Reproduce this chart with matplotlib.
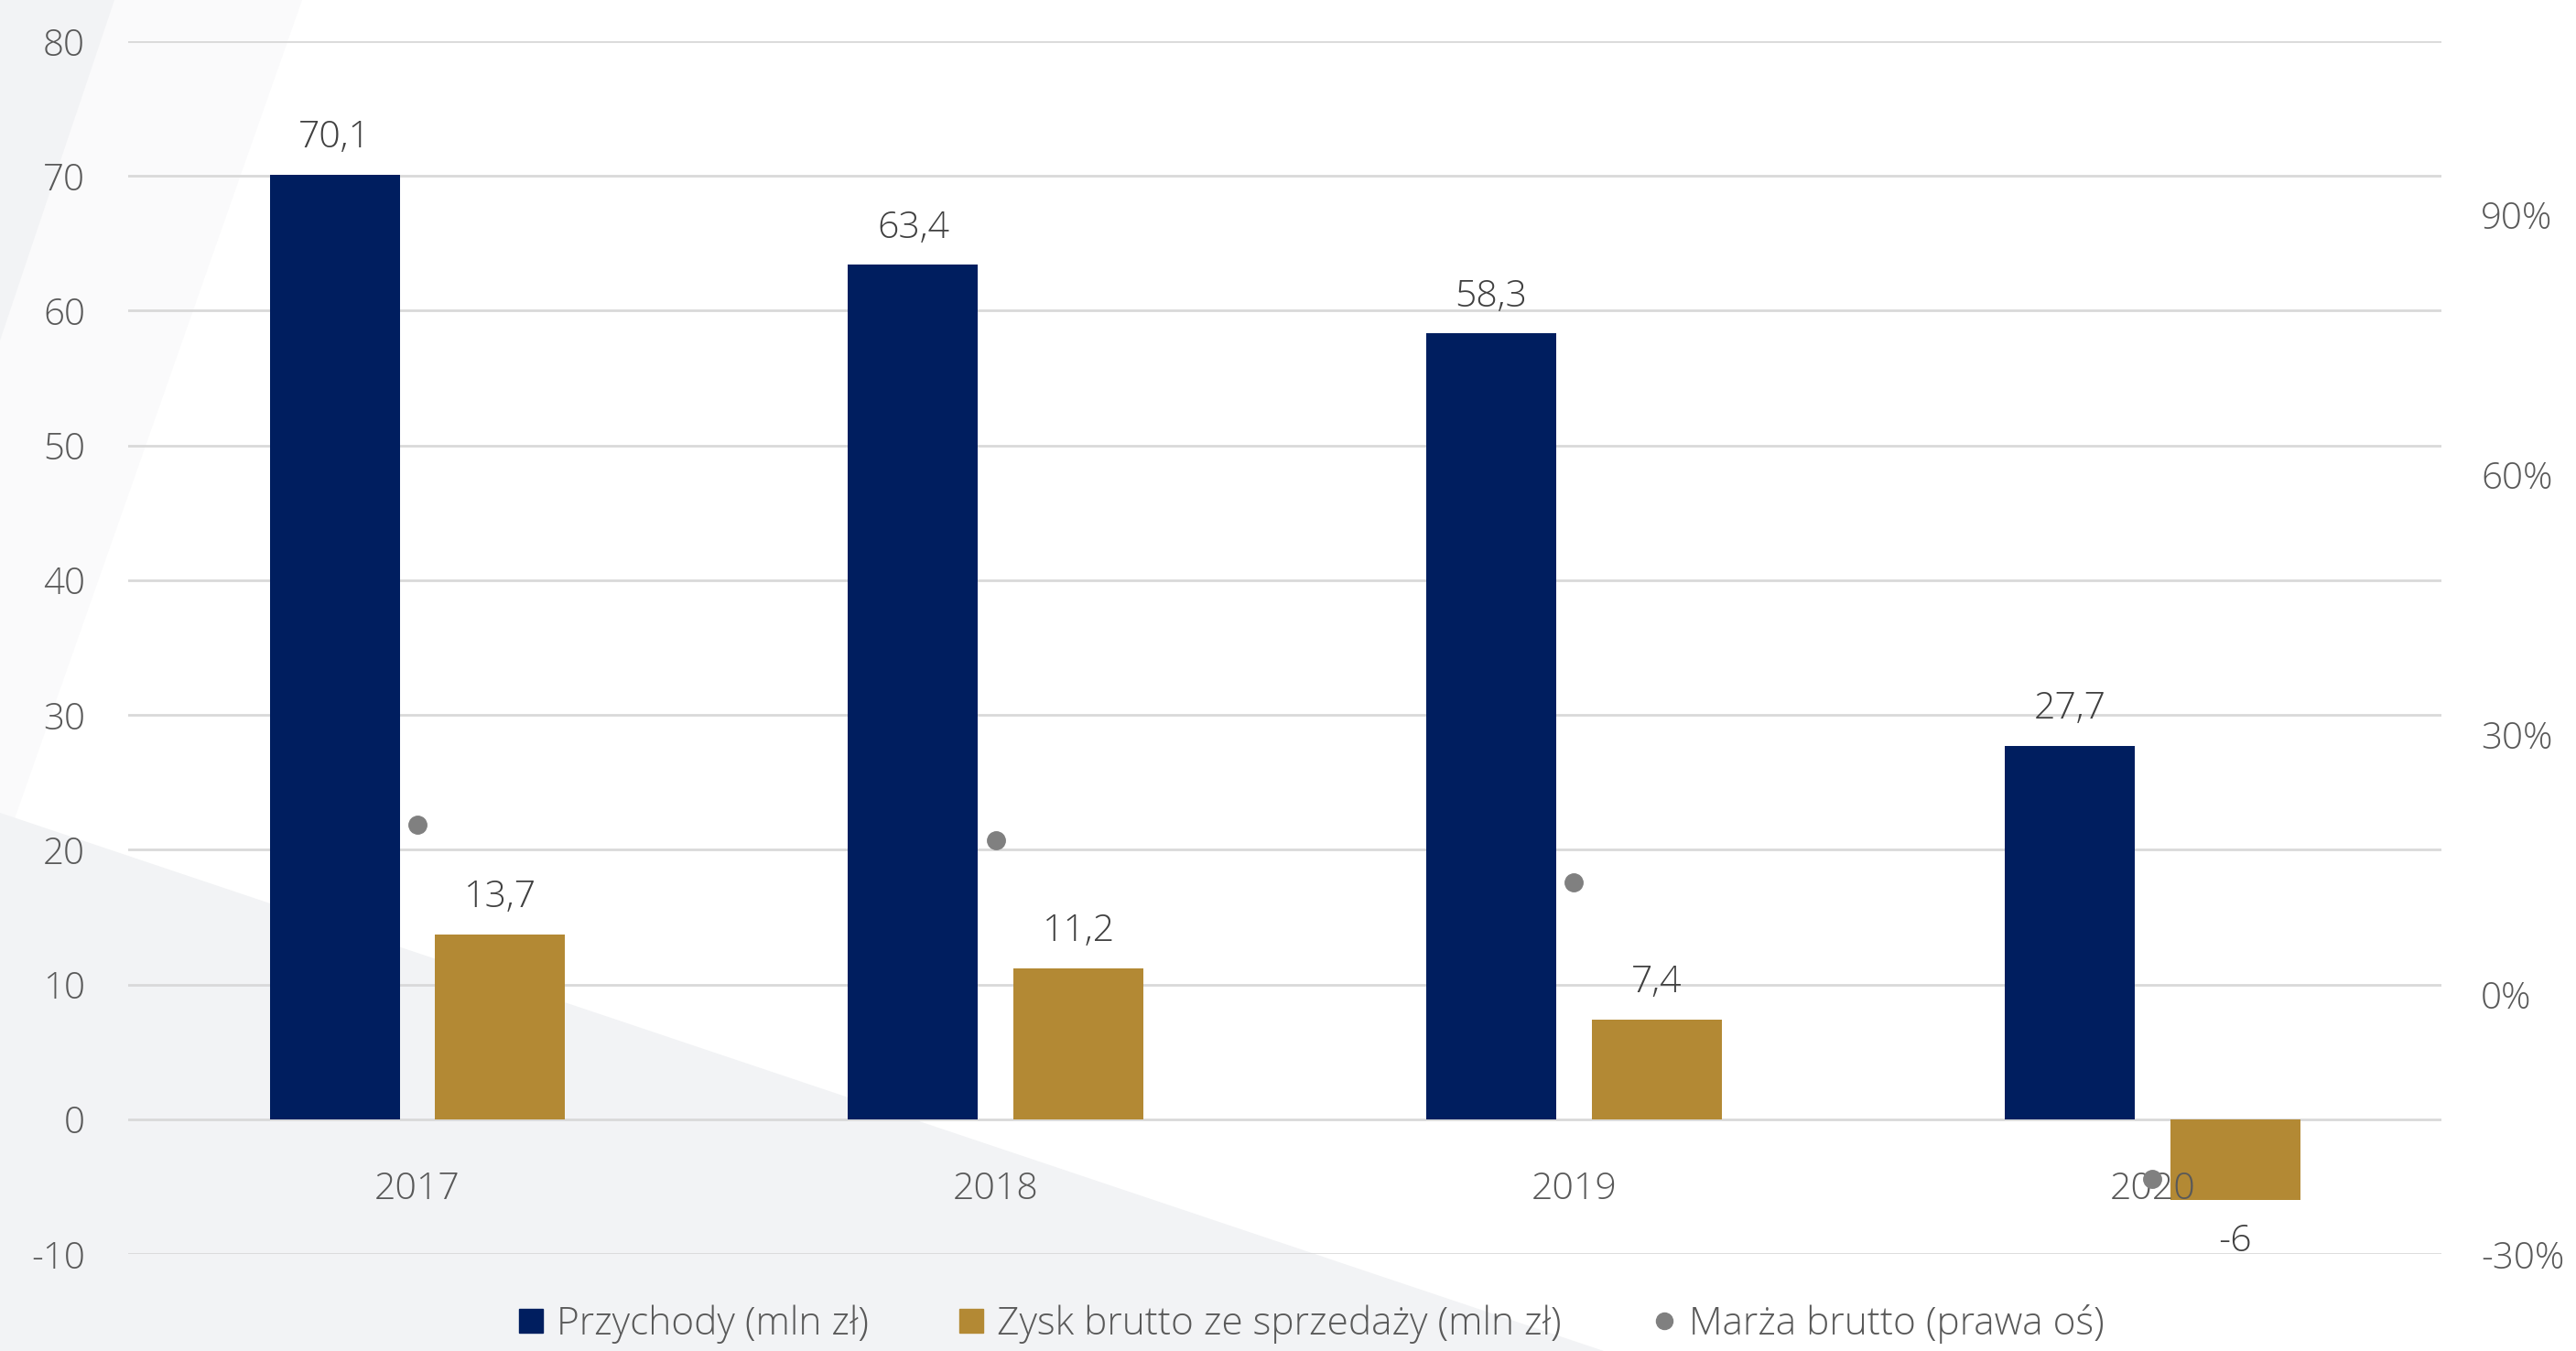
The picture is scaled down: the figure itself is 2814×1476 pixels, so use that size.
import matplotlib.pyplot as plt
import numpy as np
from matplotlib.lines import Line2D
from matplotlib.patches import Polygon

plt.rcParams['font.family'] = ['Open Sans', 'DejaVu Sans']
plt.rcParams['font.weight'] = 'light'

# Data
years = ['2017', '2018', '2019', '2020']
revenue = [70.1, 63.4, 58.3, 27.7]          # Przychody (mln zł)
gross_profit = [13.7, 11.2, 7.4, -6]        # Zysk brutto ze sprzedaży (mln zł)
gross_margin = [0.196, 0.178, 0.129, -0.213]  # Marża brutto (prawa oś)

left_ticks = [-10, 0, 10, 20, 30, 40, 50, 60, 70, 80]
right_ticks = [-0.3, 0.0, 0.3, 0.6, 0.9]

NAVY = '#001E5F'
GOLD = '#B38934'
DOT = '#808080'
TXT = '#595959'
GRID = '#D9D9D9'

fig = plt.figure(figsize=(28.14, 14.76), dpi=100)

# background decoration
bg = fig.add_axes([0, 0, 1, 1], zorder=-10)
bg.set_xlim(0, 2814)
bg.set_ylim(1476, 0)
bg.axis('off')
bg.add_patch(Polygon([(0, 0), (330, 0), (0, 940)], closed=True, color='#FAFAFB', lw=0))
bg.add_patch(Polygon([(0, 0), (125, 0), (0, 372)], closed=True, color='#F2F3F5', lw=0))
bg.add_patch(Polygon([(0, 888), (1752, 1476), (0, 1476)], closed=True, color='#F2F3F5', lw=0))

ax = fig.add_axes([0.0498, 0.0718, 0.8980, 0.8977])
ax.patch.set_alpha(0)
x = np.arange(len(years))
w = 0.225
off = 0.143

ax.bar(x - off, revenue, w, color=NAVY, zorder=3)
ax.bar(x + off, gross_profit, w, color=GOLD, zorder=3)

ax.set_xlim(-0.5, 3.5)
ax.set_ylim(-10, 80)
ax.set_yticks(left_ticks)
ax.set_yticklabels([str(t) for t in left_ticks])
ax.set_xticks([])
ax.grid(axis='y', color=GRID, lw=2, zorder=0)
ax.tick_params(axis='y', length=0, pad=34, labelsize=29, labelcolor=TXT)
for s in ax.spines.values():
    s.set_visible(False)

def fmt(v):
    return ('%g' % v).replace('.', ',')

for xi, v in zip(x - off, revenue):
    ax.annotate(fmt(v), (xi, v), xytext=(0, 29), textcoords='offset points',
                ha='center', va='center', fontsize=29.5, color='#404040')
for xi, v in zip(x + off, gross_profit):
    dy = 29 if v >= 0 else -33
    ax.annotate(fmt(v), (xi, v), xytext=(0, dy), textcoords='offset points',
                ha='center', va='center', fontsize=29.5, color='#404040')

# category labels sit just under the zero line
for xi, yr in zip(x, years):
    ax.annotate(yr, (xi, 0), xytext=(0, -55), textcoords='offset points',
                ha='center', va='center', fontsize=29.5, color=TXT, zorder=4)

ax2 = ax.twinx()
ax2.set_ylim(-0.30, 1.10)
ax2.set_yticks(right_ticks)
ax2.set_yticklabels(['%d%%' % round(t * 100) for t in right_ticks])
ax2.tick_params(axis='y', length=0, pad=31, labelsize=29, labelcolor=TXT)
for s in ax2.spines.values():
    s.set_visible(False)
ax2.plot(x, gross_margin, 'o', color=DOT, markersize=14, zorder=5)

handles = [
    Line2D([], [], marker='s', ls='', color=NAVY, markersize=19),
    Line2D([], [], marker='s', ls='', color=GOLD, markersize=19),
    Line2D([], [], marker='o', ls='', color=DOT, markersize=13),
]
labels = ['Przychody (mln zł)', 'Zysk brutto ze sprzedaży (mln zł)', 'Marża brutto (prawa oś)']
leg = fig.legend(handles, labels, loc='center', bbox_to_anchor=(0.509, 0.02), ncol=3,
                 frameon=False, fontsize=30.5, handlelength=0.7, handletextpad=0.3,
                 columnspacing=2.3, labelcolor=TXT)

fig.savefig('out.png', dpi=100)
